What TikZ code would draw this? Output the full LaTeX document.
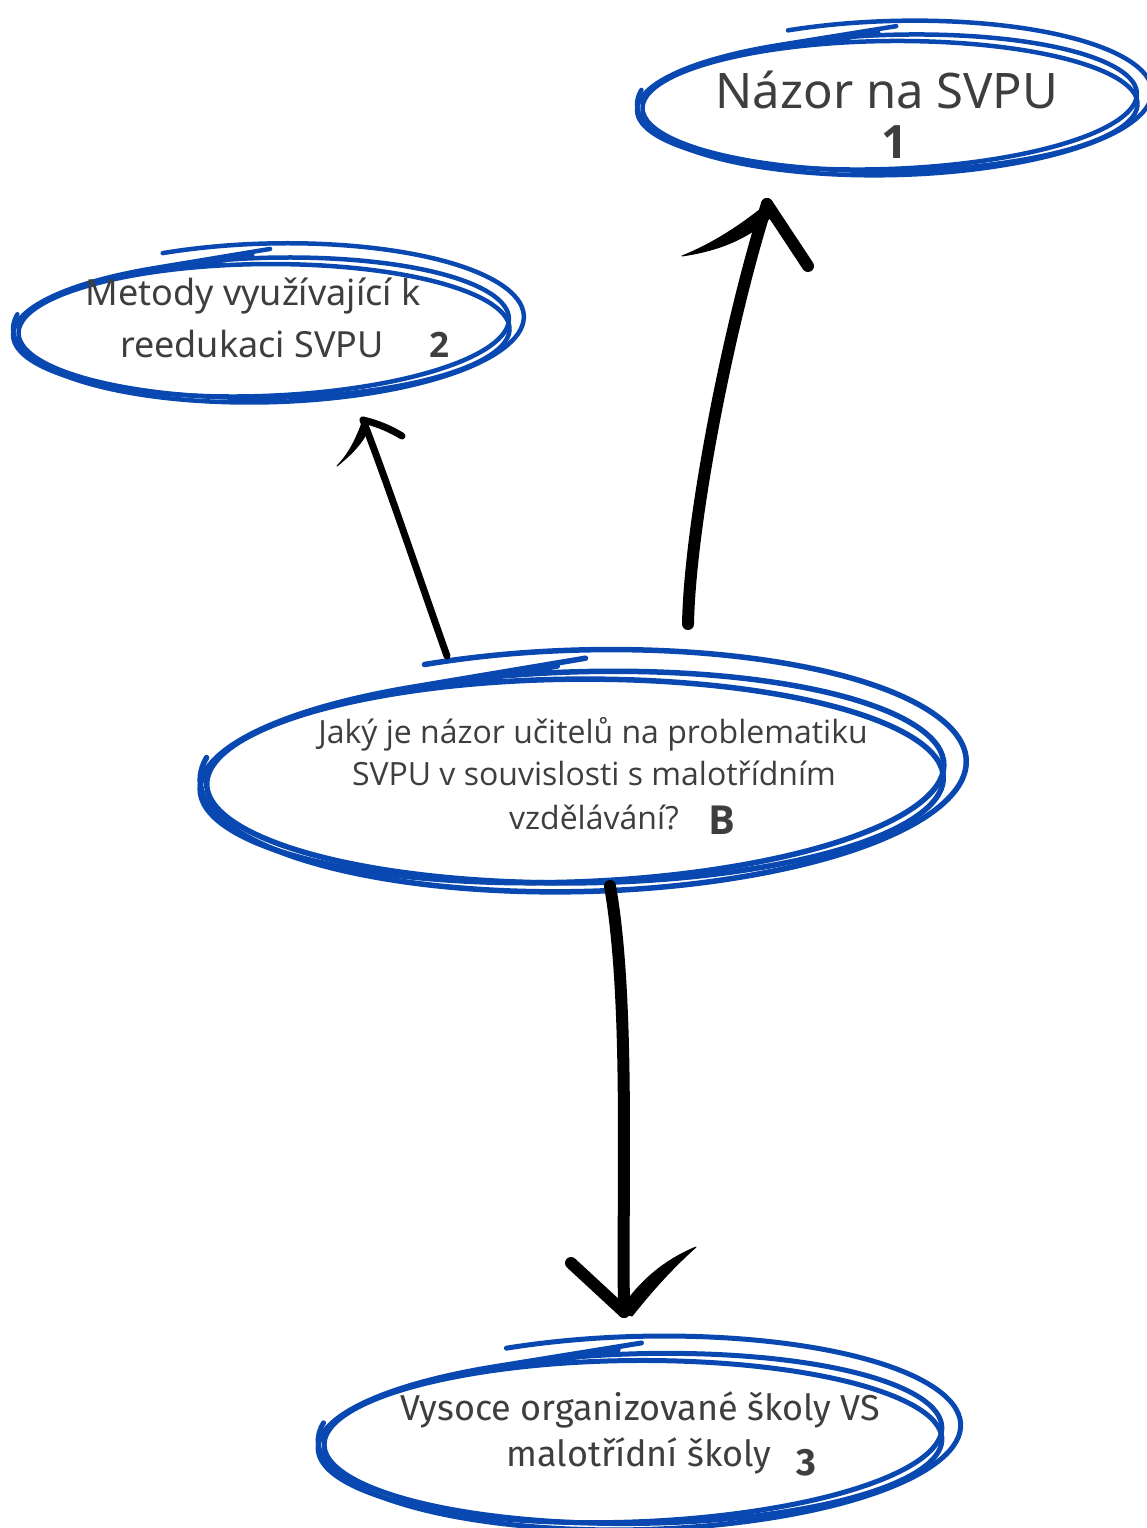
\documentclass[tikz,border=0pt]{standalone}
\usepackage{fontspec}
\setmainfont{Noto Sans}
\newfontfamily\fa{Noto Sans}
\newfontfamily\fb{Open Sans}
\newfontfamily\fc{Fira Sans}
\usetikzlibrary{shapes.geometric,calc}
\definecolor{scrblue}{RGB}{8,72,176}
\definecolor{txt}{RGB}{62,62,62}
\tikzset{
  scr/.style={draw=scrblue, line cap=round, line join=round},
  ink/.style={draw=black, line cap=round, line join=round},
  inkfill/.style={fill=black, draw=black, line width=1pt, line join=round},
  holder/.style={ellipse, draw=none, inner sep=0pt},
  lbl/.style={text=txt, inner sep=0pt, anchor=base},
  pics/scribble/.style n args={3}{code={
    \draw[scr, line width=#3, shift={({0.03*#1},{-0.06*#2})}, rotate=1.5]
      ({1.03*#1*cos(246)},{1.15*#2*sin(246)}) arc[start angle=246, delta angle=305, x radius={1.03*#1}, y radius={1.15*#2}];
    \draw[scr, line width=#3, rotate=2]
      ({#1*cos(245)},{#2*sin(245)}) arc[start angle=245, delta angle=360, x radius=#1, y radius=#2] -- ++({0.47*#1},{-0.22*#2});
    \draw[scr, line width=#3, shift={(3,4)}, rotate=0.5]
      ({0.99*#1*cos(240)},{0.97*#2*sin(240)}) arc[start angle=240, delta angle=362, x radius={0.99*#1}, y radius={0.97*#2}] -- ++({0.42*#1},{-0.24*#2});
  }}
}
\begin{document}
\begin{tikzpicture}[x=1pt,y=-1pt]
\useasboundingbox (0,0) rectangle (1147,1528);

% ellipse holders
\node[holder, minimum width=500pt, minimum height=134pt] (n1) at (887,102) {};
\node[holder, minimum width=496pt, minimum height=138pt] (n2) at (261,327) {};
\node[holder, minimum width=744pt, minimum height=210pt] (nB) at (572,777) {};
\node[holder, minimum width=624pt, minimum height=168pt] (n3) at (630,1438) {};

\pic at (n1.center) {scribble={250}{67}{4.5pt}};
\pic at (n2.center) {scribble={248}{69}{4.5pt}};
\pic at (nB.center) {scribble={372}{105}{5.5pt}};
\pic at (n3.center) {scribble={312}{84}{5pt}};

% texts
\node[lbl, font=\fa\fontsize{49}{58}\selectfont] (t1) at (887,108) {Názor na SVPU};
\node[lbl, font=\fb\bfseries\fontsize{46}{54}\selectfont] (t1n) at (895,158) {1};

\node[lbl, font=\fa\fontsize{36}{44}\selectfont] (t2a) at (253,305) {Metody využívající k};
\node[lbl, font=\fa\fontsize{36}{44}\selectfont] (t2b) at (252,357) {reedukaci SVPU};
\node[lbl, font=\fb\bfseries\fontsize{35}{44}\selectfont] (t2n) at (439,357) {2};

\node[lbl, font=\fb\fontsize{32}{38}\selectfont] (tBa) at (593,743) {Jaký je názor učitelů na problematiku};
\node[lbl, font=\fb\fontsize{32}{38}\selectfont] (tBb) at (594,785) {SVPU v souvislosti s malotřídním};
\node[lbl, font=\fb\fontsize{32}{38}\selectfont] (tBc) at (594,829) {vzdělávání?};
\node[lbl, font=\fb\bfseries\fontsize{40}{46}\selectfont] (tBn) at (722,834) {B};

\node[lbl, font=\fc\fontsize{36}{44}\selectfont] (t3a) at (640,1420) {Vysoce organizované školy VS};
\node[lbl, font=\fc\fontsize{36}{44}\selectfont] (t3b) at (639,1466) {malotřídní školy};
\node[lbl, font=\fc\bfseries\fontsize{38}{44}\selectfont] (t3n) at (806,1475) {3};

% arrow endpoints
\coordinate (a1s) at (688,624);
\coordinate (a1t) at (767,204);
\coordinate (a2s) at (447,656);
\coordinate (a2t) at (363,420);
\coordinate (a3s) at (610,886);
\coordinate (a3t) at (624,1312);

% arrow B -> 1
\draw[ink, line width=12pt] (a1s) .. controls (690,520) and (730,320) .. (a1t);
\fill[inkfill] (a1t) .. controls (740,226) and (712,244) .. (682,256)
   .. controls (716,251) and (746,240) .. (770,218) -- cycle;
\draw[ink, line width=12pt] (a1t) -- (808,266);

% arrow B -> 2
\draw[ink, line width=7pt] (a2s) .. controls (420,580) and (390,490) .. (a2t);
\fill[inkfill] (a2t) .. controls (356,440) and (348,455) .. (337,466)
   .. controls (353,453) and (363,442) .. (368,430) -- cycle;
\draw[ink, line width=7pt] (a2t) .. controls (380,424) and (392,430) .. (402,436);

% arrow B -> 3
\draw[ink, line width=12pt] (a3s) .. controls (630,1000) and (622,1180) .. (a3t);
\draw[ink, line width=12pt] (571,1263) -- (a3t);
\fill[inkfill] (619,1312) .. controls (640,1280) and (665,1260) .. (696,1247)
   .. controls (668,1272) and (648,1296) .. (632,1316) -- cycle;
\end{tikzpicture}
\end{document}
